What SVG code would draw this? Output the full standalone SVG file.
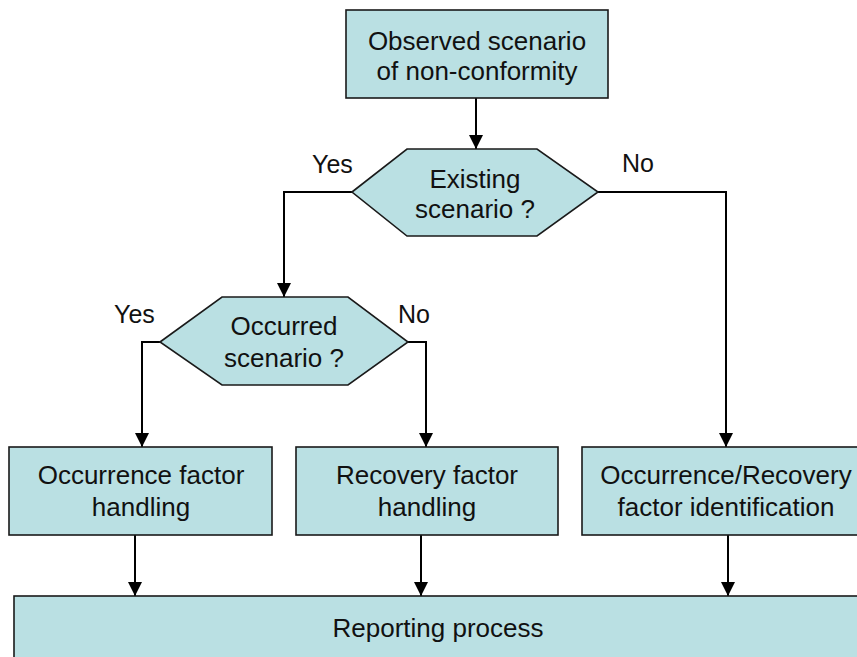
<svg xmlns="http://www.w3.org/2000/svg" width="857" height="657" viewBox="0 0 857 657">
<style>
.box{fill:#BAE0E3;stroke:#1a1a1a;stroke-width:1.6}
.t{font-family:"Liberation Sans",Arial,sans-serif;font-size:26px;fill:#111;text-anchor:middle}
.lbl{font-family:"Liberation Sans",Arial,sans-serif;font-size:25px;fill:#111}
.c{fill:none;stroke:#000;stroke-width:2;marker-end:url(#ah)}
</style>
<defs>
<marker id="ah" viewBox="0 0 14 14" refX="14" refY="7" markerWidth="14" markerHeight="14" markerUnits="userSpaceOnUse" orient="auto">
<path d="M0,0 L14,7 L0,14 z" fill="#000"/>
</marker>
</defs>
<rect width="857" height="657" fill="#fff"/>
<g id="connectors">
<path class="c" d="M476,98 V149"/>
<path class="c" d="M352,192 H284 V297"/>
<path class="c" d="M598,192 H726 V447"/>
<path class="c" d="M160,342 H142 V447"/>
<path class="c" d="M408,342 H426 V447"/>
<path class="c" d="M135,535 V596"/>
<path class="c" d="M421,535 V596"/>
<path class="c" d="M728,535 V596"/>
</g>
<g id="observed">
<rect class="box" x="346" y="10" width="262" height="88"/>
<text class="t" x="477" y="50">Observed scenario</text>
<text class="t" x="477" y="80">of non-conformity</text>
</g>
<g id="existing">
<polygon class="box" points="352,192 407,149 537,149 598,192 537,236 407,236"/>
<text class="t" x="475" y="188">Existing</text>
<text class="t" x="475" y="218">scenario ?</text>
</g>
<g id="occurred">
<polygon class="box" points="160,342 222,297 348,297 408,342 348,385 222,385"/>
<text class="t" x="284" y="335">Occurred</text>
<text class="t" x="284" y="367">scenario ?</text>
</g>
<g id="labels">
<text class="lbl" x="312" y="173">Yes</text>
<text class="lbl" x="622" y="172">No</text>
<text class="lbl" x="114" y="323">Yes</text>
<text class="lbl" x="398" y="323">No</text>
</g>
<g id="occ-handling">
<rect class="box" x="9" y="447" width="263" height="88"/>
<text class="t" x="141" y="484">Occurrence factor</text>
<text class="t" x="141" y="516">handling</text>
</g>
<g id="rec-handling">
<rect class="box" x="296" y="447" width="262" height="88"/>
<text class="t" x="427" y="484">Recovery factor</text>
<text class="t" x="427" y="516">handling</text>
</g>
<g id="identification">
<rect class="box" x="582" y="447" width="288" height="88"/>
<text class="t" x="726" y="484">Occurrence/Recovery</text>
<text class="t" x="726" y="516">factor identification</text>
</g>
<g id="reporting">
<rect class="box" x="14" y="596" width="848" height="80"/>
<text class="t" x="438" y="637">Reporting process</text>
</g>
</svg>
